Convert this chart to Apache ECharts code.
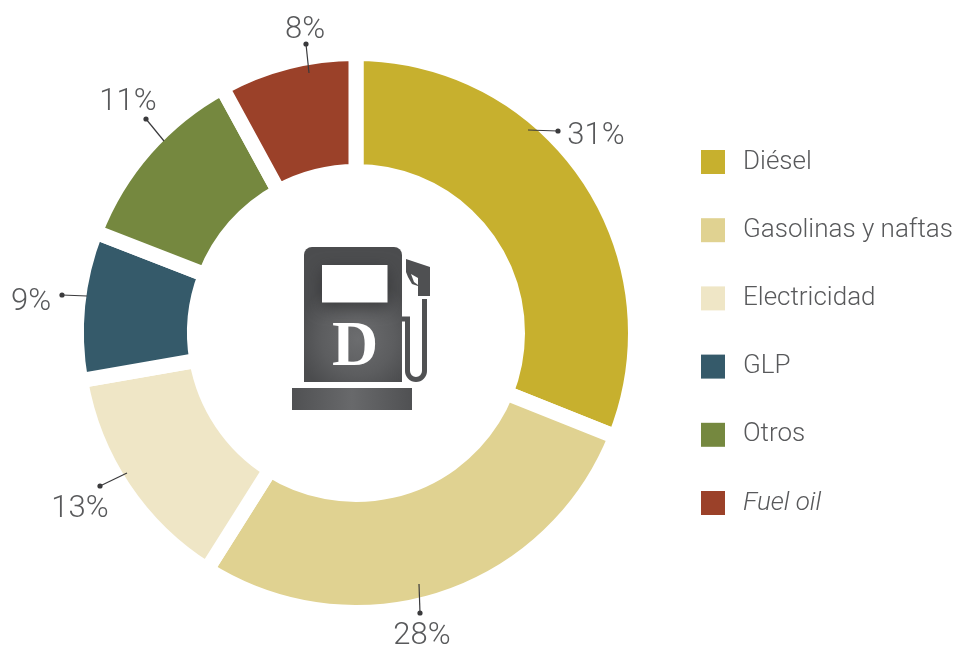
<!DOCTYPE html>
<html><head><meta charset="utf-8">
<style>html,body{margin:0;padding:0;background:#fff}#c{width:954px;height:646px}</style>
<script src="https://cdn.jsdelivr.net/npm/echarts@6/dist/echarts.min.js"></script>
</head><body><div id="c"></div>
<script>
var categories = ['Diésel','Gasolinas y naftas','Electricidad','GLP','Otros','Fuel oil'];
var values = [31.05,27.9,13.33,8.6,11.17,7.95];
var colors = ['#c7b02e','#e0d291','#efe6c6','#355a6a','#75883f','#9b4129'];
var TEXT='#58595b', FONT='Roboto', CX=356, CY=333, GAP=15;
var labelPos=[[596,136],[422,636],[80,509],[31,302],[128,102],[305,30]];
var leaders=[[528,130,558,131],[419,584,420,613],[127,473,100,486],[87,296,62,295],[164,141,146,119],[309,73,306,44]];
var bodyFill={type:'radial',x:0.55,y:0.68,r:0.62,colorStops:[{offset:0,color:'#6c6d6f'},{offset:0.6,color:'#5c5d5f'},{offset:1,color:'#4b4c4e'}]};
var g=[];
leaders.forEach(function(l){
 g.push({type:'line',z:10,shape:{x1:l[0],y1:l[1],x2:l[2],y2:l[3]},style:{stroke:'#3a3a3c',lineWidth:1.2}});
 g.push({type:'circle',z:10,shape:{cx:l[2],cy:l[3],r:2.6},style:{fill:'#3a3a3c'}});
});
g.push({type:'rect',z:5,shape:{x:304,y:247,width:98,height:135,r:[8,8,0,0]},style:{fill:bodyFill}});
g.push({type:'rect',z:6,shape:{x:322,y:265,width:65.5,height:37.5},style:{fill:'#fff',shadowBlur:16,shadowColor:'rgba(40,40,42,0.6)',shadowOffsetY:5}});
g.push({type:'text',z:6,style:{x:355,y:348,text:'D',fill:'#fff',font:'bold 64px "Liberation Serif"',align:'center',verticalAlign:'middle'}});
g.push({type:'rect',z:5,shape:{x:292,y:388,width:120,height:22},style:{fill:{type:'linear',x:0,y:0,x2:1,y2:0,colorStops:[{offset:0,color:'#505153'},{offset:0.5,color:'#68696b'},{offset:1,color:'#505153'}]}}});
g.push({type:'polygon',z:5,shape:{points:[[406,259],[430,267],[430,296],[418,296],[418,286],[412,284],[408,277],[406,272]]},style:{fill:'#4f5052'}});
g.push({type:'polygon',z:6,shape:{points:[[411,274],[418,278],[418,285],[414,282]]},style:{fill:'#fff'}});
var hose={stroke:'#505153',lineWidth:5,fill:null};
g.push({type:'polyline',z:5,shape:{points:[[402,319],[407.5,319],[407.5,371]]},style:hose});
g.push({type:'arc',z:5,shape:{cx:416,cy:371,r:8.5,startAngle:0,endAngle:Math.PI,clockwise:true},style:hose});
g.push({type:'line',z:5,shape:{x1:424.5,y1:371,x2:424.5,y2:299},style:hose});
var chart=echarts.init(document.getElementById('c'),null,{renderer:'canvas'});
chart.setOption({
 animation:false,
 backgroundColor:'#fff',
 color:colors,
 legend:{orient:'vertical',left:701,top:149,padding:0,itemWidth:24,itemHeight:24,itemGap:42.2,icon:'rect',
  itemStyle:{borderWidth:0},
  textStyle:{fontFamily:FONT,fontWeight:300,fontSize:26,lineHeight:22,color:TEXT,padding:[0,0,2,13]},
  data:categories.map(function(n){return n==='Fuel oil'?{name:n,textStyle:{fontStyle:'italic'}}:{name:n};})},
 series:[{type:'pie',center:[CX,CY],radius:[169-GAP/2,272+GAP/2],startAngle:90,clockwise:true,
  avoidLabelOverlap:false,
  itemStyle:{borderColor:'#fff',borderWidth:GAP},
  emphasis:{disabled:true},
  label:{show:true,position:'outside',overflow:'none',fontFamily:FONT,fontWeight:300,fontSize:31,color:TEXT,
   formatter:function(p){return Math.round(p.value)+'%';}},
  labelLine:{show:false},
  labelLayout:function(p){var q=labelPos[p.dataIndex];return {x:q[0],y:q[1],align:'center',verticalAlign:'middle',hideOverlap:false};},
  data:categories.map(function(n,i){return {name:n,value:values[i]};})}],
 graphic:g
});
</script></body></html>
